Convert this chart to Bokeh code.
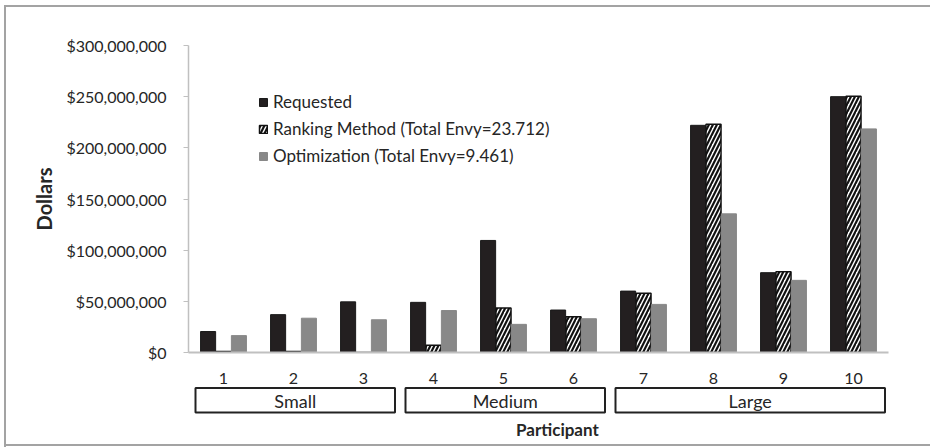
from bokeh.plotting import figure
from bokeh.layouts import column
from bokeh.models import ColumnDataSource, Range1d, FixedTicker, NumeralTickFormatter
from bokeh.transform import dodge
from bokeh.embed import file_html
from bokeh.resources import INLINE
from bokeh.core.properties import value

# ---- data ----
participants = [1, 2, 3, 4, 5, 6, 7, 8, 9, 10]
requested = [20.5e6, 37e6, 49.5e6, 49e6, 109.5e6, 41.5e6, 60e6, 222e6, 78e6, 250e6]
ranking = [1e6, 1e6, 0, 7e6, 43.5e6, 35e6, 58e6, 223e6, 79e6, 250.5e6]
optimization = [16.5e6, 33.5e6, 32e6, 41e6, 27.5e6, 33e6, 47e6, 135.5e6, 70.5e6, 218.5e6]
y_ticks = [0, 50e6, 100e6, 150e6, 200e6, 250e6, 300e6]
series_names = ["Requested", "Ranking Method (Total Envy=23.712)", "Optimization (Total Envy=9.461)"]
group_names = ["Small", "Medium", "Large"]
group_first = [1, 4, 7]
group_last = [3, 6, 10]

FONT = "Lato"
TXT = "#262626"
W = 930

src = ColumnDataSource(dict(x=participants, requested=requested, ranking=ranking, optimization=optimization))

p1 = figure(width=W, height=386, x_range=Range1d(0.5, 10.5), y_range=Range1d(0, 300e6),
            output_backend="svg", toolbar_location=None,
            min_border_left=188, min_border_right=W - 888, min_border_top=45, min_border_bottom=34)
p1.outline_line_color = None
p1.border_fill_color = None
p1.background_fill_color = None
p1.xgrid.visible = False
p1.ygrid.visible = False

bw = 0.215
p1.vbar(x=dodge("x", -0.22, range=p1.x_range), top="requested", width=bw, source=src,
        fill_color="#231f20", line_color="#1a1a1a", line_width=1, legend_label=series_names[0])
p1.vbar(x=dodge("x", 0.0, range=p1.x_range), top="ranking", width=bw, source=src,
        fill_color="white", line_color="#111111", line_width=1.5,
        hatch_pattern="right_diagonal_line", hatch_color="#111111", hatch_scale=8, hatch_weight=2.2,
        legend_label=series_names[1])
p1.vbar(x=dodge("x", 0.22, range=p1.x_range), top="optimization", width=bw, source=src,
        fill_color="#888888", line_color="#888888", line_width=1, legend_label=series_names[2])

xa = p1.xaxis[0]
xa.ticker = FixedTicker(ticks=participants)
xa.axis_line_color = "#c0c0c0"
xa.axis_line_width = 2
xa.major_tick_line_color = None
xa.minor_tick_line_color = None
xa.major_label_standoff = 14
xa.major_label_text_font = FONT
xa.major_label_text_font_size = "16px"
xa.major_label_text_color = TXT

ya = p1.yaxis[0]
ya.ticker = FixedTicker(ticks=y_ticks)
ya.formatter = NumeralTickFormatter(format="$0,0")
ya.axis_line_color = "#c0c0c0"
ya.axis_line_width = 1.5
ya.major_tick_line_color = "#c0c0c0"
ya.major_tick_in = 0
ya.major_tick_out = 5
ya.minor_tick_line_color = None
ya.major_label_standoff = 17
ya.major_label_text_font = FONT
ya.major_label_text_font_size = "16px"
ya.major_label_text_color = TXT
ya.axis_label = "Dollars"
ya.axis_label_text_font = FONT
ya.axis_label_text_font_style = "bold"
ya.axis_label_text_font_size = "20px"
ya.axis_label_text_color = TXT
ya.axis_label_standoff = 7

lg = p1.legend[0]
lg.location = (70, 186)
lg.padding = 0
lg.margin = 0
lg.spacing = 6
lg.label_height = 20
lg.glyph_height = 10
lg.glyph_width = 10
lg.label_standoff = 5
lg.border_line_color = None
lg.background_fill_alpha = 0
lg.label_text_font = FONT
lg.label_text_font_size = "17px"
lg.label_text_color = TXT

# ---- group boxes and x title ----
p2 = figure(width=W, height=61, x_range=p1.x_range, y_range=Range1d(61, 0),
            output_backend="svg", toolbar_location=None,
            min_border_left=188, min_border_right=W - 888, min_border_top=0, min_border_bottom=0)
p2.outline_line_color = None
p2.border_fill_color = None
p2.background_fill_color = None
p2.xaxis.visible = False
p2.yaxis.visible = False
p2.xgrid.visible = False
p2.ygrid.visible = False

gsrc = ColumnDataSource(dict(
    left=[f - 0.4 for f in group_first],
    right=[l + 0.45 for l in group_last],
    mid=[((f - 0.4) + (l + 0.45)) / 2 for f, l in zip(group_first, group_last)],
    name=group_names))
p2.quad(left="left", right="right", top=1.5, bottom=26, source=gsrc,
        fill_color="white", line_color="#222222", line_width=2)
p2.text(x="mid", y=14, text="name", source=gsrc, text_align="center", text_baseline="middle",
        text_font=value(FONT), text_font_size="18px", text_color=TXT)
p2.text(x=[5.77], y=[43], text=["Participant"], text_align="center", text_baseline="middle",
        text_font=value(FONT), text_font_style="bold", text_font_size="17px", text_color=TXT)

layout = column(p1, p2, spacing=0, styles={
    "background": "#ffffff",
    "box-shadow": "inset 4px 5px 0 0 #ffffff, inset 6px 7px 0 0 #a3a3a3, "
                  "inset 0 -1px 0 0 #ffffff, inset 0 -3px 0 0 #a3a3a3",
})

open("out.html", "w").write(file_html(layout, INLINE))
